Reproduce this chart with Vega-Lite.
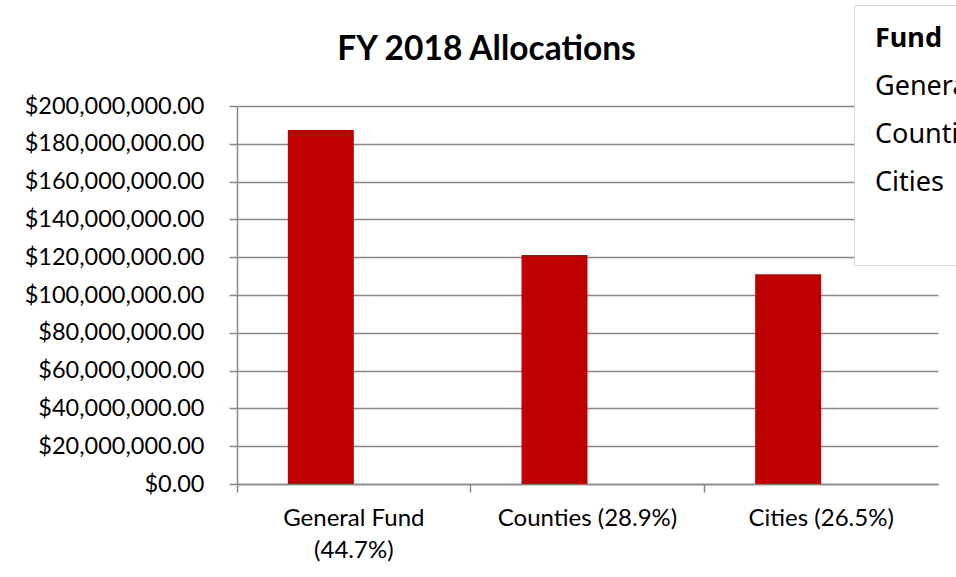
{
  "$schema": "https://vega.github.io/schema/vega-lite/v6.json",
  "autosize": {"type": "none"},
  "width": 701,
  "height": 378,
  "padding": {"left": 237, "top": 106, "right": 18, "bottom": 93},
  "background": "white",
  "title": {
    "text": "FY 2018 Allocations",
    "font": "Lato",
    "fontSize": 33.5,
    "fontWeight": "bold",
    "color": "black",
    "anchor": "middle",
    "frame": "group",
    "baseline": "alphabetic",
    "dx": -101,
    "offset": -89
  },
  "data": {
    "values": [
      {"category": "General Fund (44.7%)", "fund": "General Fund", "series": "a", "amount": 187300000},
      {"category": "Counties (28.9%)", "fund": "Counties", "series": "a", "amount": 121100000},
      {"category": "Cities (26.5%)", "fund": "Cities", "series": "a", "amount": 111000000}
    ]
  },
  "config": {
    "view": {"stroke": null},
    "axis": {"labelFont": "Lato", "labelColor": "black", "labelFontSize": 23.5}
  },
  "resolve": {"axis": {"x": "independent"}},
  "encoding": {
    "y": {
      "field": "amount",
      "type": "quantitative",
      "scale": {"domain": [0, 200000000], "nice": false},
      "axis": {
        "title": null,
        "values": [0, 20000000, 40000000, 60000000, 80000000, 100000000, 120000000, 140000000, 160000000, 180000000, 200000000],
        "format": "$,.2f",
        "labelOverlap": false,
        "gridColor": "#888888",
        "gridWidth": 1.5,
        "domainColor": "#888888",
        "domainWidth": 1.5,
        "tickColor": "#888888",
        "tickWidth": 1.5,
        "tickSize": 8,
        "labelPadding": 25
      }
    }
  },
  "layer": [
    {
      "mark": {"type": "bar", "opacity": 0},
      "encoding": {
        "x": {
          "field": "category",
          "type": "nominal",
          "sort": null,
          "scale": {"paddingInner": 0, "paddingOuter": 0},
          "axis": {
            "orient": "bottom",
            "title": null,
            "labels": false,
            "domain": false,
            "grid": false,
            "ticks": true,
            "bandPosition": 0,
            "tickColor": "#888888",
            "tickSize": 8,
            "tickWidth": 1.5
          }
        }
      }
    },
    {
      "mark": {"type": "bar", "color": "#C00000"},
      "encoding": {
        "x": {
          "field": "category",
          "type": "nominal",
          "sort": null,
          "axis": {
            "orient": "bottom",
            "title": null,
            "labelAngle": 0,
            "ticks": false,
            "domainColor": "#888888",
            "domainWidth": 1.5,
            "labelFontSize": 24,
            "labelPadding": 22,
            "labelLineHeight": 32,
            "labelExpr": "datum.value == 'General Fund (44.7%)' ? ['General Fund', '(44.7%)'] : datum.value"
          }
        },
        "xOffset": {
          "field": "series",
          "type": "nominal",
          "scale": {"domain": ["a", "b"], "paddingInner": 0, "paddingOuter": 0.77}
        },
        "color": {
          "field": "fund",
          "type": "nominal",
          "scale": {
            "domain": ["General Fund", "Counties", "Cities", " "],
            "range": ["#C00000", "#C00000", "#C00000", "#C00000"]
          },
          "legend": {
            "title": "Fund",
            "orient": "none",
            "legendX": 617,
            "legendY": -101,
            "fillColor": "white",
            "strokeColor": "#D9D9D9",
            "padding": 21,
            "titleFont": "Noto Sans",
            "titleFontSize": 27,
            "titleFontWeight": "bold",
            "titleColor": "black",
            "titlePadding": 20,
            "labelFont": "Noto Sans",
            "labelFontSize": 27,
            "labelColor": "black",
            "labelOffset": -27,
            "symbolSize": 0,
            "symbolOpacity": 0,
            "symbolStrokeWidth": 0,
            "rowPadding": 20,
            "labelLimit": 400
          }
        }
      }
    }
  ]
}
